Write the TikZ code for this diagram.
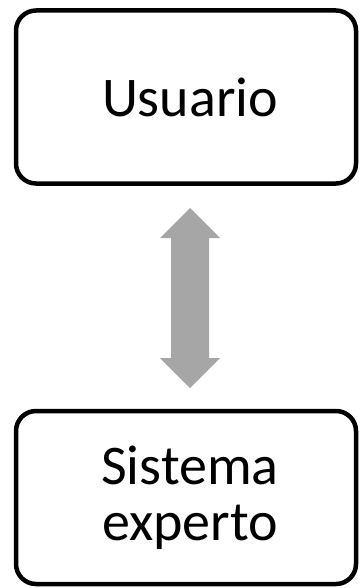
\documentclass[tikz,border=0pt]{standalone}
\usepackage{fontspec}
\setmainfont{Carlito}
\usetikzlibrary{shapes.arrows}
\begin{document}
\begin{tikzpicture}[x=1pt,y=-1pt,
  box/.style={draw=black, line width=4.5pt, rounded corners=20pt, minimum width=340pt, minimum height=173pt, inner sep=0pt, align=center, font=\fontsize{56}{56}\selectfont},
  dbl/.style={fill=black!35, draw=none}]
\useasboundingbox (0,0) rectangle (359,588);
\node[box] (u) at (186,97) {\hspace{8pt}Usuario};
\node[box] (s) at (186,497.5) {\hspace{8pt}Sistema\\\hspace{8pt}experto};
\coordinate (top) at (190,208);
\coordinate (bot) at (190,388);
\fill[dbl] (top) -- (220,238) -- (209,238) -- (209,358) -- (220,358) -- (bot) -- (160,358) -- (171,358) -- (171,238) -- (160,238) -- cycle;
\end{tikzpicture}
\end{document}
